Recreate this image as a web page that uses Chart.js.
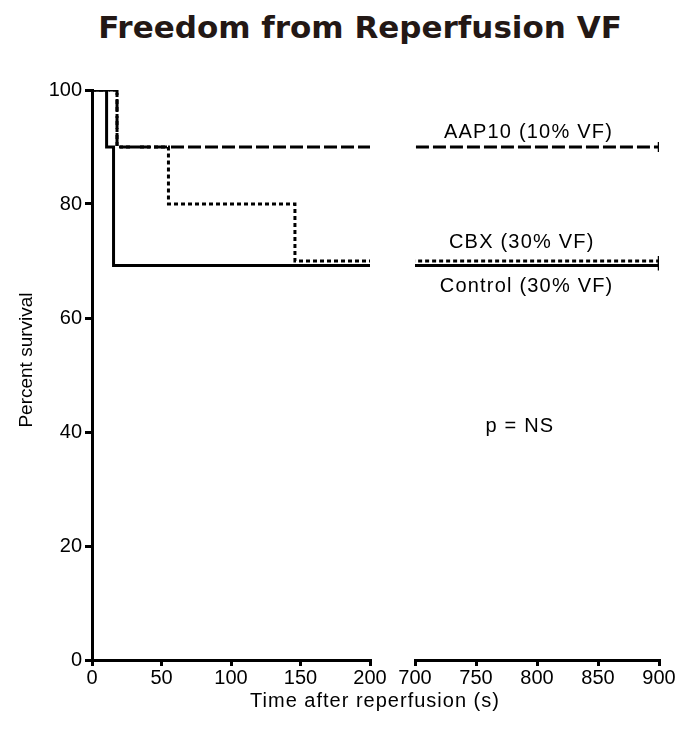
<!DOCTYPE html>
<html>
<head>
<meta charset="utf-8">
<title>Freedom from Reperfusion VF</title>
<script src="https://cdn.jsdelivr.net/npm/chart.js@4.4.1/dist/chart.umd.min.js"></script>
<style>
  html, body { margin: 0; padding: 0; background: #fff; }
  #wrap { position: relative; width: 681px; height: 729px; overflow: hidden; }
  canvas { position: absolute; top: 0; }
  #early { left: 0; }
  #late { left: 395px; }
  #title {
    position: absolute; left: 360px; top: 12px; transform: translateX(-50%);
    white-space: nowrap; font: bold 31px "DejaVu Sans", Verdana, sans-serif;
    line-height: 1; color: #231815;
  }
  #xtitle {
    position: absolute; left: 375px; top: 690px; transform: translateX(-50%);
    white-space: nowrap; font: 20px "Liberation Sans", Arial, sans-serif;
    letter-spacing: 1px; line-height: 1; color: #000;
  }
</style>
</head>
<body>
<div id="wrap">
  <div id="title">Freedom from Reperfusion VF</div>
  <canvas id="early" width="395" height="729"></canvas>
  <canvas id="late" width="286" height="729"></canvas>
  <div id="xtitle">Time after reperfusion (s)</div>
</div>
<script>
// Kaplan–Meier steps: event times (s) and percent of hearts still free of VF
const controlTimes    = [0, 10.5, 15.5, 900];
const controlSurvival = [100, 90, 69.2, 69.2];
const aap10Times      = [0, 18, 900];
const aap10Survival   = [100, 90, 90];
const cbxTimes        = [0, 18, 55, 146, 900];
const cbxSurvival     = [100, 90, 80, 70, 70];

// Axis ticks for the two pieces of the broken time axis
const survivalTicks = [0, 20, 40, 60, 80, 100];
const earlyTicks    = [0, 50, 100, 150, 200];
const lateTicks     = [700, 750, 800, 850, 900];

// Group labels shown beside the curves
const groupNames = ['AAP10 (10% VF)', 'CBX (30% VF)', 'Control (30% VF)'];
const pText = 'p = NS';
const yTitle = 'Percent survival';

// Where each note sits, in axis units of the late panel
const notePlacement = [
  { text: groupNames[0], x: 793, y: 91.6 },
  { text: groupNames[1], x: 787.5, y: 72.3 },
  { text: groupNames[2], x: 791.5, y: 64.6 },
  { text: pText,         x: 786, y: 40 }
];

const FONT = "'Liberation Sans', Arial, sans-serif";
Chart.defaults.font.family = FONT;
Chart.defaults.color = '#000';

const curves = [
  { times: controlTimes, surv: controlSurvival, dash: [],      width: 3 },
  { times: aap10Times,   surv: aap10Survival,   dash: [13, 4], width: 3 },
  { times: cbxTimes,     surv: cbxSurvival,     dash: [4, 3],  width: 3 }
];

function makeDatasets() {
  return curves.map(c => ({
    data: c.times.map((t, i) => ({ x: t, y: c.surv[i] })),
    stepped: 'before',
    borderColor: '#000',
    borderWidth: c.width,
    borderDash: c.dash,
    fill: false,
    // censoring tick at the end of follow-up
    pointRadius: ctx => (ctx.dataIndex === c.times.length - 1 ? 5 : 0),
    pointStyle: 'line',
    pointRotation: 90,
    pointBorderColor: '#000',
    pointBorderWidth: 2.5,
    pointHoverRadius: 0
  }));
}

const axisLine = { display: true, color: '#000', width: 3 };
const tickMarks = { display: true, drawOnChartArea: false, drawTicks: true, color: '#000', lineWidth: 3 };

function timeAxis(min, max, ticks) {
  return {
    type: 'linear', min, max,
    border: axisLine,
    grid: Object.assign({}, tickMarks, { tickLength: 6 }),
    ticks: { font: { size: 20 }, padding: 0, maxRotation: 0, autoSkip: false },
    afterBuildTicks: s => { s.ticks = ticks.map(v => ({ value: v })); },
    afterFit: s => { s.height = 69; }
  };
}

// rotated survival-axis title, set a little above the axis midpoint
const yTitlePlugin = {
  id: 'yTitle',
  afterDraw(chart) {
    const { ctx, chartArea } = chart;
    ctx.save();
    ctx.translate(chartArea.left - 65, (chartArea.top + chartArea.bottom) / 2 - 15);
    ctx.rotate(-Math.PI / 2);
    ctx.font = '19px ' + FONT;
    ctx.fillStyle = '#000';
    ctx.textAlign = 'center';
    ctx.textBaseline = 'middle';
    ctx.fillText(yTitle, 0, 0);
    ctx.restore();
  }
};

const notesPlugin = {
  id: 'groupNotes',
  afterDatasetsDraw(chart) {
    const { ctx } = chart;
    const x = chart.scales.x, y = chart.scales.y;
    ctx.save();
    ctx.font = '20px ' + FONT;
    if ('letterSpacing' in ctx) ctx.letterSpacing = '1.2px';
    ctx.fillStyle = '#000';
    ctx.textAlign = 'center';
    ctx.textBaseline = 'alphabetic';
    notePlacement.forEach(n => {
      ctx.fillText(n.text, x.getPixelForValue(n.x), y.getPixelForValue(n.y));
    });
    ctx.restore();
  }
};

const common = {
  responsive: false,
  animation: false,
  events: [],
  plugins: { legend: { display: false }, tooltip: { enabled: false } }
};

// 0–200 s panel, carries the survival axis
new Chart(document.getElementById('early'), {
  type: 'line',
  data: { datasets: makeDatasets() },
  options: Object.assign({}, common, {
    layout: { padding: { top: 90, right: 25, bottom: 0, left: 12 } },
    scales: {
      x: timeAxis(0, 200, earlyTicks),
      y: {
        type: 'linear', min: 0, max: 100,
        border: axisLine,
        grid: Object.assign({}, tickMarks, { tickLength: 7 }),
        ticks: { font: { size: 20 }, padding: 3 },
        afterBuildTicks: s => { s.ticks = survivalTicks.map(v => ({ value: v })); },
        afterFit: s => { s.width = 80; }
      }
    }
  }),
  plugins: [yTitlePlugin]
});

// 700–900 s panel, same survival range without its own axis
new Chart(document.getElementById('late'), {
  type: 'line',
  data: { datasets: makeDatasets() },
  options: Object.assign({}, common, {
    layout: { padding: { top: 90, right: 22, bottom: 0, left: 20 } },
    scales: {
      x: timeAxis(700, 900, lateTicks),
      y: { type: 'linear', min: 0, max: 100, display: false }
    }
  }),
  plugins: [notesPlugin]
});
</script>
</body>
</html>
